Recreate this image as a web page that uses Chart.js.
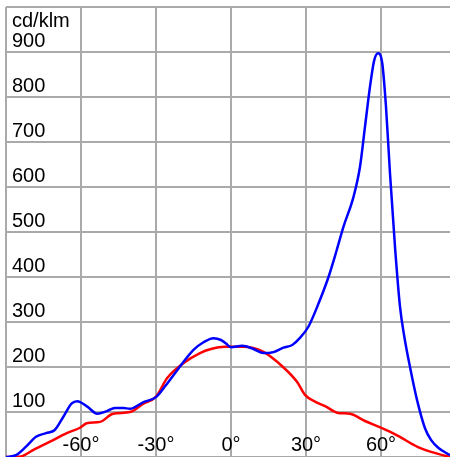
<!DOCTYPE html>
<html>
<head>
<meta charset="utf-8">
<script src="https://cdn.jsdelivr.net/npm/chart.js@4"></script>
<style>
  body { margin: 0; background: #fff; }
  #wrap { width: 450px; height: 457px; }
</style>
</head>
<body>
<div id="wrap"><canvas id="lightChart"></canvas></div>
<script>
// Luminous intensity curves (angle in degrees, value in cd/klm)
const blueAngles = [-90, -86, -82, -78, -74, -70.5, -67, -63.7, -61.5, -57.5, -53.5, -49.6, -46.5, -43, -40.5, -35, -30,
  -26, -21.5, -15, -11, -7, -4, -2, 0, 4.5, 9, 13, 17, 21, 24.5, 27.5, 31, 35, 39, 42.3, 45, 49, 51.6, 53.6,
  55.6, 57.3, 58.9, 60.5, 62, 63.6, 65.6, 67.6, 69.4, 71.6, 74.4, 77.6, 80, 83, 87.6];
const blueValues = [0, 4, 23, 45, 53, 60, 90, 119, 124, 112, 96, 102, 109, 109, 107, 122, 133,
  160, 193, 238, 255, 264, 260, 252, 244, 247, 240, 231, 233, 243, 249, 264, 290, 341, 400, 460, 512, 578, 645, 734,
  823, 882, 897, 875, 778, 630, 467, 334, 265, 200, 127, 64, 38, 20, 4];

const redAngles = [-90, -86, -84, -79, -72.4, -65.7, -60.4, -57.7, -52.4, -47.2, -40.4, -35.2, -30, -25.6, -19.2,
  -12.4, -8, -2.4, 4.8, 12.8, 20.8, 26.4, 29.6, 33.6, 37.6, 42.8, 47.6, 53.6, 60.4, 66.8, 74.8, 82.8, 87.6];
const redValues = [0, 0, 1, 16, 34, 53, 65, 75, 78, 96, 100, 118, 134, 175, 208,
  231, 240, 245, 245, 234, 200, 167, 138, 123, 113, 98, 96, 80, 64, 47, 22, 7, 0];

// Tick labels
const xTickValues = [-60, -30, 0, 30, 60];
const yTickValues = [100, 200, 300, 400, 500, 600, 700, 800, 900];
const yUnit = 'cd/klm';

const labelFont = { family: "'Liberation Sans', Arial, sans-serif", size: 20 };
const gridColor = '#aaaaaa';

function toPoints(xs, ys) {
  return xs.map((x, i) => ({ x: x, y: ys[i] }));
}

// draws the unit text above the 900 label
const unitLabel = {
  id: 'unitLabel',
  afterDraw(chart) {
    const y = chart.scales.y;
    const ctx = chart.ctx;
    ctx.save();
    ctx.font = "20px 'Liberation Sans', Arial, sans-serif";
    ctx.fillStyle = '#000';
    ctx.textAlign = 'left';
    ctx.textBaseline = 'middle';
    ctx.fillText(yUnit, y.right + 6, y.getPixelForValue(900) - 31);
    ctx.restore();
  }
};

const config = {
  type: 'line',
  data: {
    datasets: [{
      data: toPoints(blueAngles, blueValues),
      borderColor: '#0000ff',
      borderWidth: 2.5,
      pointRadius: 0,
      fill: false,
      cubicInterpolationMode: 'monotone'
    }, {
      data: toPoints(redAngles, redValues),
      borderColor: '#ff0000',
      borderWidth: 2.5,
      pointRadius: 0,
      fill: false,
      cubicInterpolationMode: 'monotone'
    }]
  },
  options: {
    responsive: true,
    maintainAspectRatio: false,
    animation: false,
    layout: { padding: { top: 7, left: 0, right: 0, bottom: 0 } },
    plugins: { legend: { display: false }, tooltip: { enabled: false } },
    scales: {
      x: {
        type: 'linear',
        min: -90,
        max: 87.6,
        border: { display: false },
        grid: { color: gridColor, lineWidth: 2, drawTicks: false },
        afterBuildTicks(scale) {
          scale.ticks = [-90].concat(xTickValues).map(v => ({ value: v }));
        },
        afterFit(scale) {
          scale.paddingLeft = 0;
          scale.paddingRight = 0;
          scale.height = 0;
        },
        ticks: {
          mirror: true,
          padding: 0,
          maxRotation: 0,
          autoSkip: false,
          color: '#000',
          font: labelFont,
          callback: v => xTickValues.includes(v) ? v + '°' : ''
        }
      },
      y: {
        min: 0,
        max: 1000,
        border: { display: false },
        grid: { color: gridColor, lineWidth: 2, drawTicks: false },
        afterFit(scale) {
          scale.paddingTop = 0;
          scale.paddingBottom = 0;
          scale.width = 6;
        },
        ticks: {
          stepSize: 100,
          mirror: true,
          padding: 6,
          labelOffset: -11,
          color: '#000',
          font: labelFont,
          callback: v => yTickValues.includes(v) ? String(v) : ''
        }
      }
    }
  },
  plugins: [unitLabel]
};

const lightChart = new Chart(document.getElementById('lightChart'), config);
</script>
</body>
</html>
